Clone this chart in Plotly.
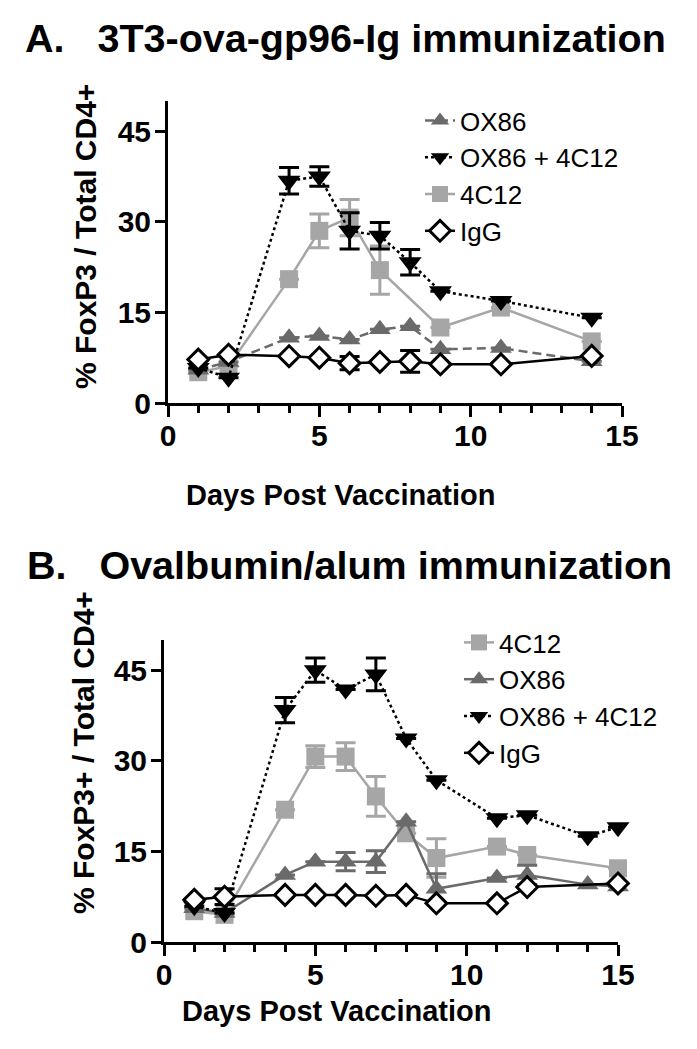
import plotly.graph_objects as go

# ---------------- Data: Panel A (3T3-ova-gp96-Ig immunization) ----------------
a_days_ox86 = [1, 2, 4, 5, 6, 7, 8, 9, 11, 14]
a_ox86 = [5.5, 6.8, 10.8, 11.1, 10.5, 12.2, 12.7, 8.9, 9.1, 6.9]
a_ox86_err = [0, 0, 0, 0, 0, 0, 0, 0, 0, 0]

a_days_combo = [1, 2, 4, 5, 6, 7, 8, 9, 11, 14]
a_combo = [5.8, 4.2, 36.8, 37.5, 28.5, 27.7, 23.3, 18.5, 16.9, 14.1]
a_combo_err = [0, 0, 2.2, 1.6, 3.0, 2.2, 2.1, 0, 0, 0]

a_days_4c12 = [1, 2, 4, 5, 6, 7, 9, 11, 14]
a_4c12 = [5.1, 6.1, 20.5, 28.5, 30.7, 22.0, 12.5, 15.8, 10.2]
a_4c12_err = [0, 0, 0, 2.8, 3.0, 4.0, 0, 0, 0]

a_days_igg = [1, 2, 4, 5, 6, 7, 8, 9, 11, 14]
a_igg = [7.2, 8.0, 7.75, 7.5, 6.6, 6.8, 6.9, 6.4, 6.4, 7.8]
a_igg_err = [0, 0, 0, 0, 1.1, 0, 1.8, 0, 0, 0]

# ---------------- Data: Panel B (Ovalbumin/alum immunization) ----------------
b_days_4c12 = [1, 2, 4, 5, 6, 7, 8, 9, 11, 12, 15]
b_4c12 = [5.1, 4.5, 21.9, 30.7, 30.7, 24.1, 18.0, 13.9, 15.8, 14.4, 12.2]
b_4c12_err = [0, 0, 0, 1.8, 2.3, 3.3, 0, 3.2, 0, 0, 0]

b_days_ox86 = [1, 2, 4, 5, 6, 7, 8, 9, 11, 12, 14, 15]
b_ox86 = [5.6, 4.8, 11.1, 13.3, 13.3, 13.3, 19.9, 8.8, 10.6, 11.1, 9.5, 9.2]
b_ox86_err = [0, 0, 0, 0, 1.5, 1.8, 0, 2.5, 0, 1.6, 0, 0]

b_days_combo = [1, 2, 4, 5, 6, 7, 8, 9, 11, 12, 14, 15]
b_combo = [5.9, 4.8, 38.4, 45.0, 41.8, 44.3, 33.7, 26.8, 20.5, 21.0, 17.5, 19.0]
b_combo_err = [0, 0, 2.1, 2.0, 0, 2.7, 0, 0, 0, 0, 0, 0]

b_days_igg = [1, 2, 4, 5, 6, 7, 8, 9, 11, 12, 15]
b_igg = [7.0, 7.5, 7.8, 7.8, 7.8, 7.65, 7.8, 6.4, 6.4, 9.1, 9.7]
b_igg_err = [0, 1.3, 0, 0, 0, 0, 0, 0, 0, 0, 0]

x_ticks = [0, 5, 10, 15]
y_ticks = [0, 15, 30, 45]

title_a = "A.   3T3-ova-gp96-Ig immunization"
title_b = "B.   Ovalbumin/alum immunization"
ylabel_a = "% FoxP3 / Total CD4+"
ylabel_b = "% FoxP3+ / Total CD4+"
xlabel = "Days Post Vaccination"

FONT = "Liberation Sans, Arial, sans-serif"
DARK = "#6a6a6a"
LIGHT = "#a6a6a6"
BLACK = "#000000"


def err(arr, color):
    return dict(type="data", array=arr, visible=True, color=color,
                thickness=3, width=10)


def series(x, y, e, name, color, dash, symbol, size, xa, ya, legend, rank,
           fill=None, mline=0):
    return go.Scatter(
        x=x, y=y, name=name, mode="lines+markers",
        xaxis=xa, yaxis=ya, legend=legend, legendrank=rank,
        line=dict(color=color, width=2.5, dash=dash),
        marker=dict(symbol=symbol, size=size,
                    color=fill if fill else color,
                    line=dict(color=color, width=mline)),
        error_y=err(e, color), cliponaxis=False,
    )


fig = go.Figure()

# Panel A
fig.add_trace(series(a_days_4c12, a_4c12, a_4c12_err, "4C12", LIGHT, "solid",
                     "square", 18, "x", "y", "legend", 3))
fig.add_trace(series(a_days_ox86, a_ox86, a_ox86_err, "OX86", DARK, "9px,5px",
                     "triangle-up", 19, "x", "y", "legend", 1))
fig.add_trace(series(a_days_combo, a_combo, a_combo_err, "OX86 + 4C12", BLACK,
                     "dot", "triangle-down", 20, "x", "y", "legend", 2))
fig.add_trace(series(a_days_igg, a_igg, a_igg_err, "IgG", BLACK, "solid",
                     "diamond", 16, "x", "y", "legend", 4, fill="white", mline=3))

# Panel B
fig.add_trace(series(b_days_4c12, b_4c12, b_4c12_err, "4C12", LIGHT, "solid",
                     "square", 18, "x2", "y2", "legend2", 1))
fig.add_trace(series(b_days_ox86, b_ox86, b_ox86_err, "OX86", DARK, "solid",
                     "triangle-up", 19, "x2", "y2", "legend2", 2))
fig.add_trace(series(b_days_combo, b_combo, b_combo_err, "OX86 + 4C12", BLACK,
                     "dot", "triangle-down", 20, "x2", "y2", "legend2", 3))
fig.add_trace(series(b_days_igg, b_igg, b_igg_err, "IgG", BLACK, "solid",
                     "diamond", 16, "x2", "y2", "legend2", 4, fill="white", mline=3))

# page body adds an 8px margin around the plot div
OFF = 8
W, H = 697 - 2 * OFF, 1049 - 2 * OFF


def px_x(p):
    return (p - OFF) / W


def px_y(p):
    return 1 - (p - OFF) / H


tickfont = dict(family=FONT, size=30, color="black", weight="bold")


def xaxis(domain, anchor):
    return dict(domain=domain, anchor=anchor, range=[0, 15], automargin=False,
                tickvals=x_ticks, ticktext=[str(v) for v in x_ticks],
                ticks="outside", ticklen=11, tickwidth=3, tickcolor="black",
                ticklabelstandoff=-7,
                showline=True, linewidth=3, linecolor="black",
                showgrid=False, zeroline=False, tickfont=tickfont,
                minor=dict(dtick=1, tick0=0, ticks="outside", ticklen=7,
                           tickwidth=2.5, tickcolor="black", showgrid=False))


def yaxis(domain, anchor):
    return dict(domain=domain, anchor=anchor, range=[0, 50], automargin=False,
                tickvals=y_ticks, ticktext=[str(v) for v in y_ticks],
                ticks="outside", ticklen=10, tickwidth=3, tickcolor="black",
                ticklabelstandoff=-2,
                showline=True, linewidth=3, linecolor="black",
                showgrid=False, zeroline=False, tickfont=tickfont)


legend_font = dict(family=FONT, size=26, color="black")

fig.update_layout(
    template="none",
    width=W, height=H,
    margin=dict(l=0, r=0, t=0, b=0, autoexpand=False),
    paper_bgcolor="white", plot_bgcolor="white",
    showlegend=True,
    xaxis=xaxis([px_x(168), px_x(622)], "y"),
    yaxis=yaxis([px_y(403), px_y(101)], "x"),
    xaxis2=xaxis([px_x(164), px_x(618)], "y2"),
    yaxis2=yaxis([px_y(942), px_y(640)], "x2"),
    legend=dict(x=px_x(420), y=px_y(97), xanchor="left", yanchor="top",
                font=legend_font, bgcolor="rgba(0,0,0,0)", borderwidth=0,
                traceorder="normal", itemwidth=30, tracegroupgap=0),
    legend2=dict(x=px_x(459), y=px_y(619), xanchor="left", yanchor="top",
                 font=legend_font, bgcolor="rgba(0,0,0,0)", borderwidth=0,
                 traceorder="normal", itemwidth=30, tracegroupgap=0),
)

annots = [
    dict(text=title_a, x=px_x(23), y=px_y(38.5), xanchor="left", yanchor="middle",
         font=dict(family=FONT, size=39.5, color="black", weight="bold")),
    dict(text=title_b, x=px_x(25), y=px_y(565), xanchor="left", yanchor="middle",
         font=dict(family=FONT, size=39.5, color="black", weight="bold")),
    dict(text=xlabel, x=px_x(340), y=px_y(495), xanchor="center", yanchor="middle",
         font=dict(family=FONT, size=29, color="black", weight="bold")),
    dict(text=xlabel, x=px_x(336), y=px_y(1011), xanchor="center", yanchor="middle",
         font=dict(family=FONT, size=29, color="black", weight="bold")),
    dict(text=ylabel_a, x=px_x(85), y=px_y(237), xanchor="center", yanchor="middle",
         textangle=-90, font=dict(family=FONT, size=30, color="black", weight="bold")),
    dict(text=ylabel_b, x=px_x(83), y=px_y(753), xanchor="center", yanchor="middle",
         textangle=-90, font=dict(family=FONT, size=30, color="black", weight="bold")),
]
for a in annots:
    a.update(xref="paper", yref="paper", showarrow=False)
fig.update_layout(annotations=annots)

fig.write_html("out.html")
